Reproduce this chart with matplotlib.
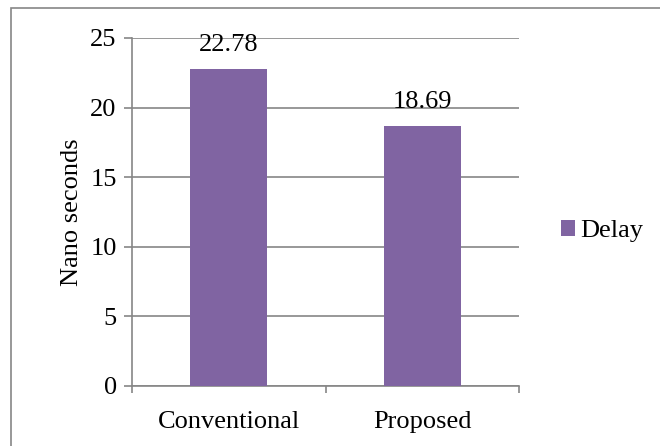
import matplotlib
matplotlib.use("Agg")
import matplotlib.pyplot as plt
from matplotlib.patches import Rectangle

categories = ["Conventional", "Proposed"]
delay = [22.78, 18.69]
yticks = [0, 5, 10, 15, 20, 25]

plt.rcParams['font.family'] = ['Liberation Serif', 'DejaVu Serif']
FS = 19

fig = plt.figure(figsize=(6.6, 4.46), dpi=100)
# outer chart border
fig.patches.append(Rectangle((11 / 660, -0.01), 1.0, 1 - 8 / 446 + 0.01, transform=fig.transFigure,
                             fill=False, edgecolor="#868686", linewidth=1.2))

ax = fig.add_axes([132 / 660, 1 - 386 / 446, (519 - 132) / 660, (386 - 38) / 446])
bars = ax.bar(range(len(categories)), delay, width=0.4, color="#8064A2", label="Delay", zorder=3)
for b, v in zip(bars, delay):
    ax.text(b.get_x() + b.get_width() / 2, v + 0.95, f"{v:.2f}", ha="center", va="bottom", fontsize=FS)

ax.set_xlim(-0.5, 1.5)
ax.set_ylim(0, 25)
ax.set_yticks(yticks)
ax.set_xticks([-0.5, 0.5, 1.5], minor=False)
ax.set_xticklabels([])
ax.set_xticks([0, 1], minor=True)
ax.set_xticklabels(categories, minor=True, fontsize=FS)
ax.tick_params(axis="x", which="minor", length=0, pad=18)
ax.tick_params(axis="x", which="major", length=5, color="#868686", width=1.2)
ax.tick_params(axis="y", length=6, color="#868686", width=1.2, labelsize=FS, pad=5)
ax.grid(axis="y", color="#868686", linewidth=1.2, zorder=0)
for s in ["top", "right"]:
    ax.spines[s].set_visible(False)
for s in ["left", "bottom"]:
    ax.spines[s].set_color("#868686")
    ax.spines[s].set_linewidth(1.2)
ax.set_ylabel("Nano seconds", fontsize=FS, labelpad=5)

ax.legend(loc="center left", bbox_to_anchor=(1.046, 0.445), frameon=False, fontsize=FS,
          handlelength=0.55, handleheight=0.55, handletextpad=0.2)

fig.savefig("out.png", dpi=100)
